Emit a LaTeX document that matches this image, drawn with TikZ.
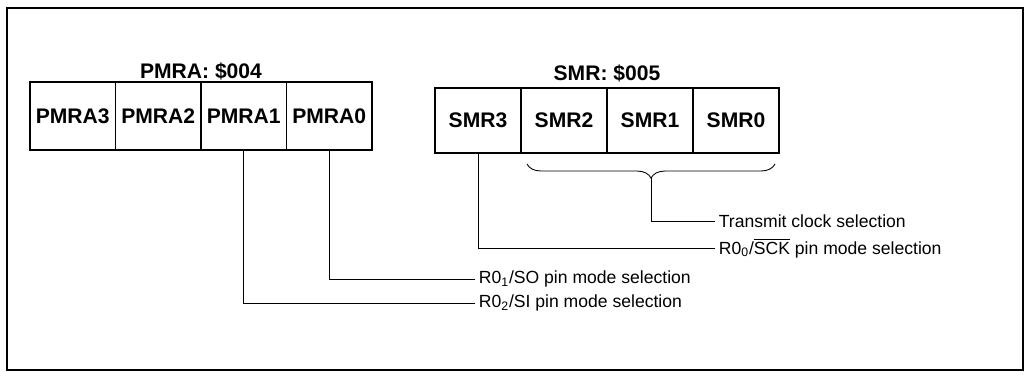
\documentclass[tikz,border=0pt]{standalone}
\usepackage{fontspec}
\setmainfont{Liberation Sans}
\usetikzlibrary{positioning,decorations.pathreplacing}

\begin{document}
\begin{tikzpicture}[
        bitcell/.style={draw, line width=0.8pt, minimum height=1.36cm, minimum width=1.71cm, inner sep=0pt, font=\bfseries\fontsize{12}{14}\selectfont},
        regname/.style={font=\bfseries\fontsize{12}{14}\selectfont},
        note/.style={anchor=west, inner sep=2pt, font=\fontsize{10}{12}\selectfont},
        wire/.style={line width=0.5pt}]
    \useasboundingbox (0,0) rectangle (20.62,7.6);
    \draw[line width=1.1pt] (0.14,0.2) rectangle (20.46,7.44);
    % PMRA register
    \foreach \x/\b in {1.455/3, 3.165/2, 4.875/1, 6.585/0}{
        \node[bitcell] (pmra\b) at (\x, 5.28) {PMRA\b};
    }
    \node[regname] (pmratitle) at (4.02, 6.18) {PMRA:\ \$004};
    % SMR register
    \foreach \x/\b in {9.56/3, 11.28/2, 13.0/1, 14.72/0}{
        \node[bitcell, minimum height=1.3cm, minimum width=1.72cm] (smr\b) at (\x, 5.19) {SMR\b};
    }
    \node[regname] (smrtitle) at (12.14, 6.14) {SMR:\ \$005};
    % notes
    \node[note] (clk) at (14.3, 3.18) {Transmit clock selection};
    \node[note] (sck) at (14.3, 2.64) {R0\textsubscript{0}/$\overline{\mbox{SCK}}$ pin mode selection};
    \node[note] (so) at (9.5, 2.02) {R0\textsubscript{1}/SO pin mode selection};
    \node[note] (si) at (9.5, 1.54) {R0\textsubscript{2}/SI pin mode selection};
    % connectors
    \draw[wire] (pmra1.south) |- (si.west);
    \draw[wire] (pmra0.south) |- (so.west);
    \draw[wire] (smr3.south) |- (sck.west);
    \draw[wire, decorate, decoration={brace, mirror, amplitude=8pt}] (10.54, 4.32) -- (15.5, 4.32);
    \coordinate (brtip) at (13.02, 4.04);
    \draw[wire] (brtip) |- (clk.west);
\end{tikzpicture}
\end{document}
